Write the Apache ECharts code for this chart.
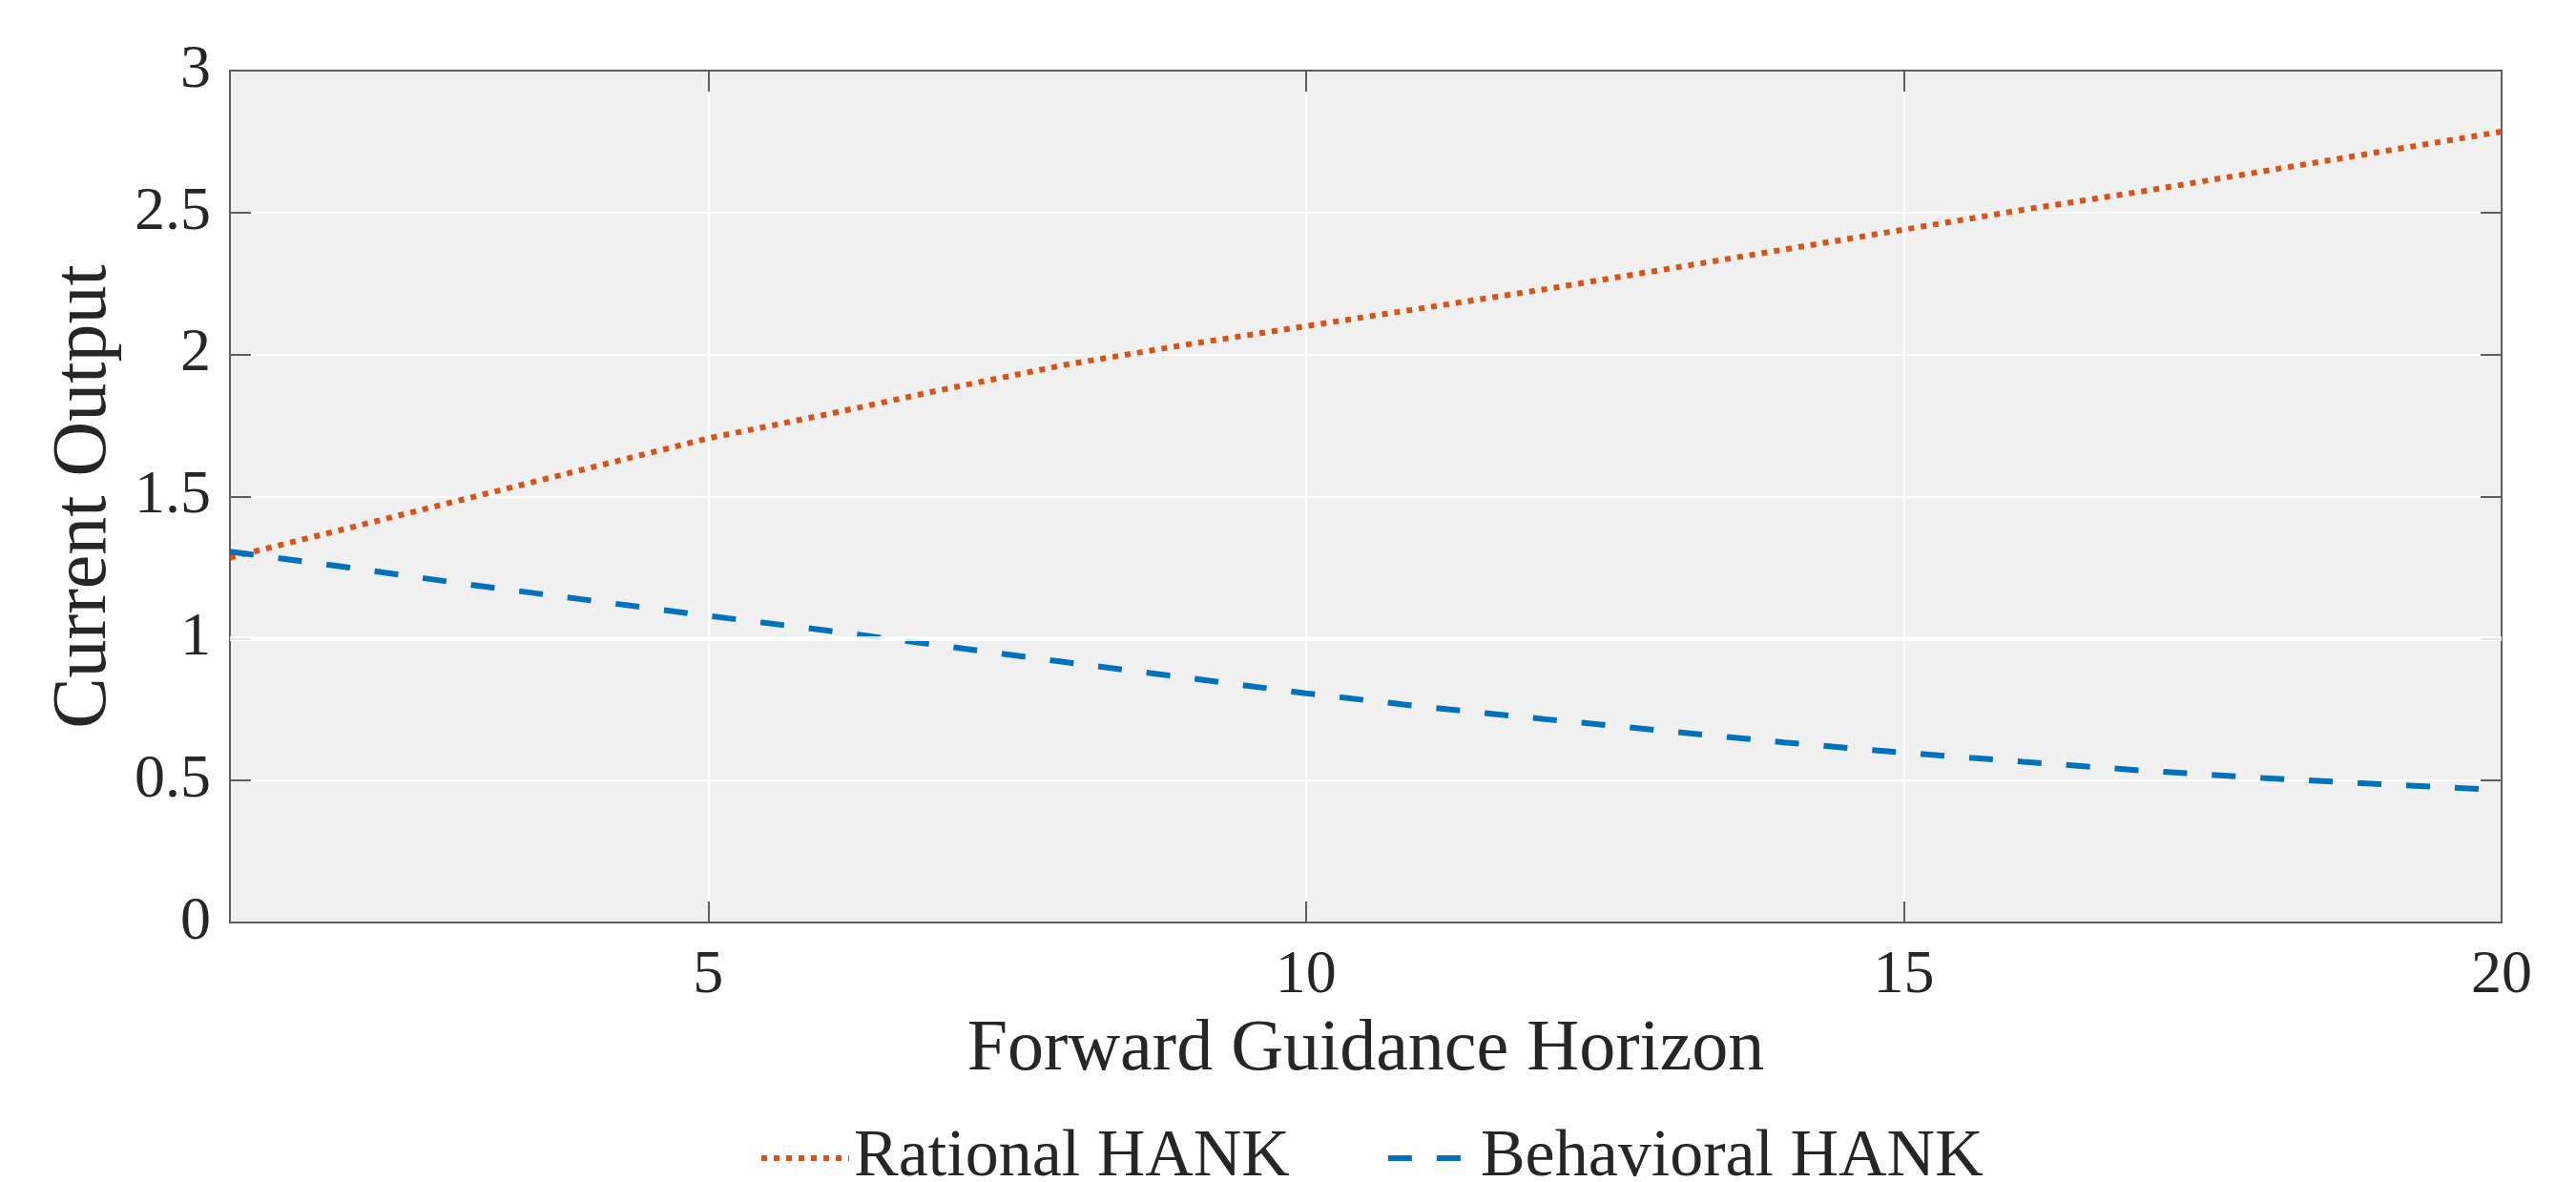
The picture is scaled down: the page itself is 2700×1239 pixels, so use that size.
<!DOCTYPE html>
<html>
<head>
<meta charset="utf-8">
<title>Forward Guidance Horizon</title>
<script src="https://cdn.jsdelivr.net/npm/echarts@6.0.0/dist/echarts.min.js"></script>
<style>
  html, body { margin: 0; padding: 0; background: #fff; }
  #chart { width: 2700px; height: 1239px; }
</style>
</head>
<body>
<div id="chart"></div>
<script>
// horizon (x) and the two model responses
const horizon = [1, 2, 3, 4, 5, 6, 7, 8, 9, 10, 11, 12, 13, 14, 15, 16, 17, 18, 19, 20];
const rationalHank = [1.285, 1.39, 1.495, 1.6, 1.705, 1.79, 1.88, 1.965, 2.035, 2.1,
  2.165, 2.23, 2.3, 2.37, 2.44, 2.51, 2.575, 2.645, 2.715, 2.785];
const behavioralHank = [1.306, 1.25, 1.19, 1.135, 1.08, 1.028, 0.972, 0.916, 0.862, 0.807,
  0.759, 0.716, 0.675, 0.634, 0.598, 0.566, 0.535, 0.509, 0.487, 0.466];
const seriesNames = ['Rational HANK', 'Behavioral HANK'];
const xTicks = [5, 10, 15, 20];
const xInnerTicks = [5, 10, 15];
const refLevel = 1;

const FONT = 'Liberation Serif';
const TEXT = '#262626';
const AXIS = '#5e5e5e';
const ORANGE = '#D95319';
const BLUE = '#0072BD';

const chart = echarts.init(document.getElementById('chart'));

/**
 * 把 x/y 配对成点
 */
function pairs(xs, ys) {
  return xs.map((x, i) => [x, ys[i]]);
}

// 框线 + 内刻度，四边共用
function frameAxis(extra) {
  return Object.assign({
    type: 'value',
    axisLine: { show: true, onZero: false, lineStyle: { color: AXIS, width: 2 } },
    axisTick: { show: true, inside: true, length: 22, lineStyle: { color: AXIS, width: 2 } },
    splitLine: { show: false },
  }, extra);
}

const xAxis = [
  frameAxis({
    position: 'bottom',
    min: 1,
    max: 20,
    name: 'Forward Guidance Horizon',
    nameLocation: 'middle',
    nameGap: 96,
    nameTextStyle: { fontFamily: FONT, fontSize: 76, color: TEXT },
    axisTick: { show: true, inside: true, length: 22, customValues: xInnerTicks, lineStyle: { color: AXIS, width: 2 } },
    axisLabel: { customValues: xTicks, margin: 24, fontFamily: FONT, fontSize: 64, color: TEXT },
    splitLine: { show: true, lineStyle: { color: '#ffffff', width: 2 } },
  }),
  frameAxis({
    position: 'top',
    min: 1,
    max: 20,
    axisTick: { show: true, inside: true, length: 22, customValues: xInnerTicks, lineStyle: { color: AXIS, width: 2 } },
    axisLabel: { show: false },
  }),
];

const yAxis = [
  frameAxis({
    position: 'left',
    min: 0,
    max: 3,
    interval: 0.5,
    name: 'Current Output',
    nameLocation: 'middle',
    nameGap: 112,
    nameTextStyle: { fontFamily: FONT, fontSize: 80, color: TEXT },
    axisLabel: { margin: 20, fontFamily: FONT, fontSize: 64, color: TEXT },
    splitLine: { show: true, lineStyle: { color: '#ffffff', width: 2 } },
  }),
  frameAxis({
    position: 'right',
    min: 0,
    max: 3,
    interval: 0.5,
    axisLabel: { show: false },
  }),
];

const option = {
  backgroundColor: '#ffffff',
  animation: false,
  grid: {
    left: 241,
    right: 78,
    top: 74,
    bottom: 272,
    show: true,
    backgroundColor: '#f0f0f0',
    borderWidth: 0,
  },
  legend: {
    top: 1174,
    left: 790,
    itemWidth: 92,
    itemHeight: 20,
    itemGap: 100,
    // 图例只画线，不画圆点
    itemStyle: { opacity: 0 },
    lineStyle: { width: 6 },
    textStyle: { fontFamily: FONT, fontSize: 70, color: TEXT },
    data: seriesNames,
  },
  xAxis,
  yAxis,
  series: [
    {
      name: seriesNames[0],
      type: 'line',
      data: pairs(horizon, rationalHank),
      showSymbol: false,
      symbol: 'none',
      z: 3,
      color: ORANGE,
      lineStyle: { color: ORANGE, width: 6, type: [6, 7], cap: 'butt' },
    },
    {
      name: seriesNames[1],
      type: 'line',
      data: pairs(horizon, behavioralHank),
      showSymbol: false,
      symbol: 'none',
      z: 3,
      color: BLUE,
      lineStyle: { color: BLUE, width: 6, type: [25, 26], cap: 'butt' },
      // y = 1 的白色参考线，盖在曲线上面
      markLine: {
        silent: true,
        symbol: 'none',
        z: 10,
        label: { show: false },
        lineStyle: { color: '#ffffff', width: 5, type: 'solid', opacity: 0.85 },
        data: [{ yAxis: refLevel }],
      },
    },
  ],
};

chart.setOption(option);
</script>
</body>
</html>
